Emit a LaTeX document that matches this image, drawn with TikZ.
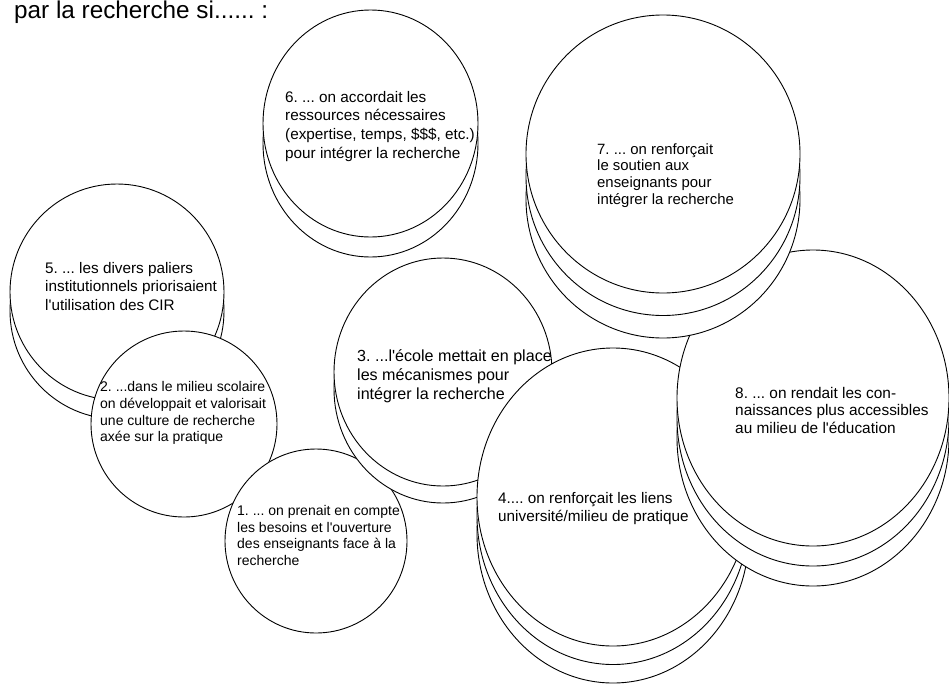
\documentclass[tikz,border=0pt]{standalone}
\usepackage{fontspec}
\setmainfont{Liberation Sans}[Ligatures=TeXOff]
\frenchspacing

\begin{document}
\begin{tikzpicture}[
    x=1pt, y=-1pt,
    disc/.style={draw, fill=white, line width=0.9pt},
    txt/.style={anchor=north west, inner sep=0pt, align=left, font=\fontsize{15.3}{18.5}\selectfont},
    smalltxt/.style={txt, font=\fontsize{14}{16.7}\selectfont}
  ]
    \useasboundingbox (0,0) rectangle (949,683);

    % piles de disques, du fond vers l'avant
    \draw[disc] (117,311) ellipse [x radius=107pt, y radius=108pt];
    \draw[disc] (117,292) ellipse [x radius=107pt, y radius=108pt];

    \draw[disc] (184,424) ellipse [x radius=93pt, y radius=93pt];

    \draw[disc] (316,541) ellipse [x radius=91pt, y radius=92pt];

    \draw[disc] (443,389) ellipse [x radius=109pt, y radius=114pt];
    \draw[disc] (443,372) ellipse [x radius=109pt, y radius=114pt];

    \draw[disc] (613,534) ellipse [x radius=136pt, y radius=149pt];
    \draw[disc] (613,515.5) ellipse [x radius=136pt, y radius=149pt];
    \draw[disc] (613,497) ellipse [x radius=136pt, y radius=149pt];

    \draw[disc] (813,438) ellipse [x radius=136pt, y radius=148pt];
    \draw[disc] (813,418) ellipse [x radius=136pt, y radius=148pt];
    \draw[disc] (813,398) ellipse [x radius=136pt, y radius=148pt];

    \draw[disc] (663,199) ellipse [x radius=137pt, y radius=139pt];
    \draw[disc] (663,176.5) ellipse [x radius=137pt, y radius=139pt];
    \draw[disc] (663,154) ellipse [x radius=137pt, y radius=139pt];

    \draw[disc] (370.5,143.5) ellipse [x radius=107.5pt, y radius=113.5pt];
    \draw[disc] (370.5,123.5) ellipse [x radius=107.5pt, y radius=113.5pt];

    % textes
    \node[anchor=base west, inner sep=0pt, font=\fontsize{24.3}{28}\selectfont] (titre) at (14,18) {par la recherche si...... :};

    \node[txt] (paliers) at (45,262) {5. ... les divers paliers\\institutionnels priorisaient\\l'utilisation des CIR};
    \node[smalltxt] (culture) at (100,381.5) {2. ...dans le milieu scolaire\\on développait et valorisait\\une culture de recherche\\axée sur la pratique};
    \node[smalltxt] (besoins) at (237,505) {1. ... on prenait en compte\\les besoins et l'ouverture\\des enseignants face à la\\recherche};
    \node[txt, font=\fontsize{16.1}{19}\selectfont] (mecanismes) at (357,349) {3. ...l'école mettait en place\\les mécanismes pour\\intégrer la recherche};
    \node[txt] (liens) at (498,492) {4.... on renforçait les liens\\université/milieu de pratique};
    \node[txt, font=\fontsize{15.4}{17.5}\selectfont] (acces) at (735,387) {8. ... on rendait les con-\\naissances plus accessibles\\au milieu de l'éducation};
    \node[txt, font=\fontsize{14.9}{16.8}\selectfont] (soutien) at (597,143) {7. ... on renforçait\\le soutien aux\\enseignants pour\\intégrer la recherche};
    \node[txt, font=\fontsize{15.3}{18.7}\selectfont] (ressources) at (285,91) {6. ... on accordait les\\ressources nécessaires\\(expertise, temps, \$\$\$, etc.)\\pour intégrer la recherche};
  \end{tikzpicture}
\end{document}
